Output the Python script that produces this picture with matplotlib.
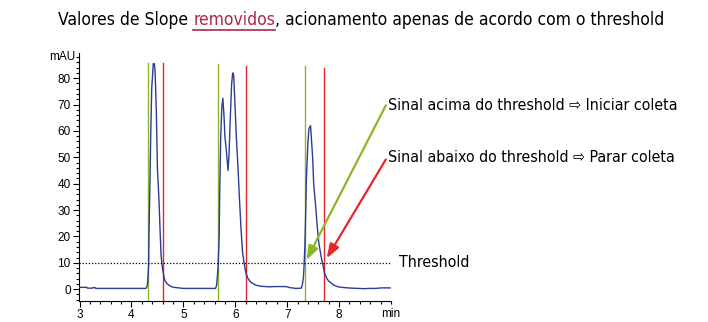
import matplotlib
matplotlib.use("Agg")
import matplotlib.pyplot as plt
from matplotlib.lines import Line2D
from matplotlib.ticker import MultipleLocator

# ---------------------
# dados lidos do cromatograma
# ---------------------
tempo = [3.00, 3.14, 3.15, 3.25, 3.26, 3.30, 3.31, 4.28, 4.30, 4.31, 4.33, 4.34, 4.36, 4.37,
         4.39, 4.41, 4.42, 4.44, 4.45, 4.46, 4.48, 4.50, 4.53, 4.55, 4.57, 4.59, 4.61,
         4.64, 4.69, 4.74, 4.79, 4.90, 5.01, 5.62, 5.64, 5.66, 5.67,
         5.69, 5.70, 5.72, 5.74, 5.76, 5.78, 5.80, 5.83, 5.86, 5.88, 5.90, 5.93, 5.95,
         5.97, 5.99, 6.02, 6.05, 6.08, 6.11, 6.14, 6.17, 6.20, 6.24, 6.30, 6.40, 6.50,
         6.66, 6.75, 6.98, 7.05, 7.17, 7.27, 7.29, 7.31, 7.32,
         7.34, 7.35, 7.37, 7.40, 7.42, 7.45, 7.46, 7.49, 7.51, 7.55, 7.58, 7.61, 7.66,
         7.69, 7.72, 7.76, 7.80, 7.85, 7.90, 7.98, 8.10, 8.24, 8.49, 8.60, 8.70, 8.82, 8.98]
sinal = [0.7, 0.7, 0.4, 0.4, 0.6, 0.6, 0.3, 0.3, 1.0, 2.3, 9, 23, 45, 57,
         76, 82, 85.5, 85.5, 84, 80, 67, 46, 34, 23, 13, 9, 6.5,
         3.4, 2.0, 1.3, 0.8, 0.5, 0.3, 0.3, 1.5, 6, 9,
         20.5, 37, 58, 68.6, 72.4, 66.7, 58, 52, 45, 51, 63, 78, 82,
         81, 72, 58, 47, 34.5, 23, 14, 10, 6.5, 4.2, 2.6, 1.5, 1.1,
         0.9, 1.0, 1.0, 0.6, 0.3, 0.4, 1.5, 4, 7,
         16, 23.6, 42, 56, 61, 62, 59, 50, 40, 31, 23.5, 17.4, 11.7,
         9, 6, 4.2, 3.0, 2.3, 1.5, 0.9, 0.6, 0.4, 0.2, 0.3, 0.3, 0.5, 0.5]

inicio_coleta = [4.32, 5.67, 7.34]
fim_coleta = [4.60, 6.20, 7.71]
topo_inicio = [85.6, 85.2, 84.5]
topo_fim = [85.6, 84.8, 83.7]
threshold = 10

xticks = [3, 4, 5, 6, 7, 8]
yticks = [0, 10, 20, 30, 40, 50, 60, 70, 80]

AZUL = "#2a3c94"
VERDE = "#8db52a"
VERMELHO = "#e8262a"
VINHO = "#b0264a"
FONTE = ["DejaVu Sans"]
ESTICA = "condensed"

fig = plt.figure(figsize=(7.08, 3.22), dpi=100)
ax = fig.add_axes([0.1116, 0.065, 0.4407, 0.770])

ax.plot(tempo, sinal, color=AZUL, lw=1.0, zorder=3)
for t, top in zip(inicio_coleta, topo_inicio):
    ax.plot([t, t], [-4.5, top], color=VERDE, lw=1.0, zorder=2)
for t, top in zip(fim_coleta, topo_fim):
    ax.plot([t, t], [-4.5, top], color=VERMELHO, lw=1.0, zorder=2)
ax.plot([2.99, 9.0], [threshold, threshold], color="black", lw=0.9, ls=(0, (1, 1.5)), zorder=4)

ax.set_xlim(2.99, 9.0)
ax.set_ylim(-4.5, 89.5)
ax.set_xticks(xticks)
ax.set_yticks(yticks)
ax.xaxis.set_minor_locator(MultipleLocator(0.2))
ax.yaxis.set_minor_locator(MultipleLocator(2))
ax.tick_params(which="major", length=4, width=0.8, labelsize=8.5, pad=2)
ax.tick_params(which="minor", length=2, width=0.8)
for lab in ax.get_xticklabels() + ax.get_yticklabels():
    lab.set_family(["Liberation Sans", "DejaVu Sans"])
for s in ["top", "right"]:
    ax.spines[s].set_visible(False)
ax.text(9.0, -7.2, "min", ha="center", va="top",
        fontsize=8.5, family=["Liberation Sans", "DejaVu Sans"], clip_on=False)
ax.text(2.93, 88, "mAU", ha="right", va="center", fontsize=8.5,
        family=["Liberation Sans", "DejaVu Sans"])

# anotações
ax.annotate("", xy=(7.37, 11), xytext=(8.90, 69.7), annotation_clip=False,
            arrowprops=dict(arrowstyle="-|>,head_length=0.85,head_width=0.3",
                            color=VERDE, lw=1.6, shrinkA=0, shrinkB=0))
ax.annotate("", xy=(7.76, 11.7), xytext=(8.90, 49.2), annotation_clip=False,
            arrowprops=dict(arrowstyle="-|>,head_length=0.85,head_width=0.3",
                            color=VERMELHO, lw=1.6, shrinkA=0, shrinkB=0))
ax.text(8.95, 69.7, "Sinal acima do threshold \u21e8 Iniciar coleta", ha="left", va="center",
        fontsize=11.4, family=FONTE, stretch=ESTICA, clip_on=False)
ax.text(8.94, 50, "Sinal abaixo do threshold \u21e8 Parar coleta", ha="left", va="center",
        fontsize=11.4, family=FONTE, stretch=ESTICA, clip_on=False)
ax.text(9.15, threshold, "Threshold", ha="left", va="center", fontsize=11.4, family=FONTE,
        stretch=ESTICA, clip_on=False)

# título com a palavra destacada
partes = [("Valores de Slope ", "black"), ("removidos", VINHO),
          (", acionamento apenas de acordo com o threshold", "black")]
fig.canvas.draw()
r = fig.canvas.get_renderer()
x = 58 / 708
for txt, cor in partes:
    t = fig.text(x, 1 - 20 / 322, txt, color=cor, fontsize=12.5, family=FONTE,
                 stretch=ESTICA, ha="left", va="center")
    bb = t.get_window_extent(r).transformed(fig.transFigure.inverted())
    if cor == VINHO:
        fig.add_artist(Line2D([bb.x0, bb.x1], [bb.y0 - 0.003, bb.y0 - 0.003],
                              color=VINHO, lw=1.2, transform=fig.transFigure))
    x = bb.x1

fig.savefig("out.png", dpi=100)
